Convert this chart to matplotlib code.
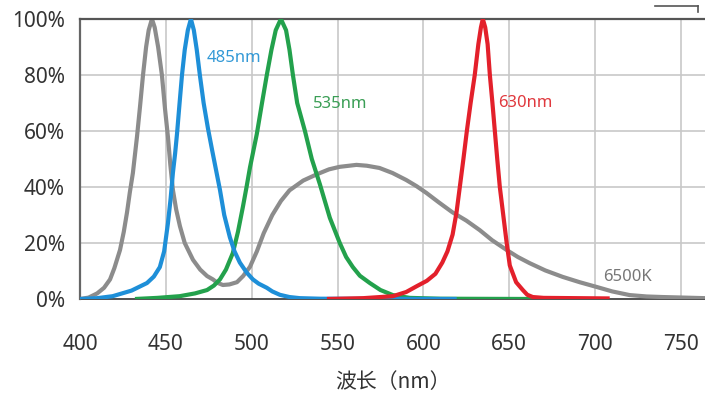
import matplotlib
matplotlib.use("Agg")
import matplotlib.pyplot as plt
from matplotlib.lines import Line2D

# ---- data (wavelength nm, relative intensity %) ----
gray_x = [400, 405, 410, 414, 417.5, 420, 423.3, 425.5, 427.4, 429, 430.8, 433.2, 435,
          436.7, 438.5, 440, 441.9, 443.5, 445.5, 447.7, 449.5, 451.2, 452.6, 454.1, 456,
          458.2, 461, 465.8, 470, 474, 477.4, 480, 483.2, 487, 491.4, 495, 499, 503,
          507, 512, 517, 522, 530, 537.8, 545, 551.2, 561, 567, 574.4, 582, 590,
          596, 601.7, 609, 616.8, 625, 632.8, 640, 648.5, 655, 661.9, 671, 681.1,
          691, 700.9, 710, 720.1, 730, 739.3, 764]
gray_y = [0, 0.5, 2, 4, 7, 11, 17.5, 24, 31, 38, 45, 58, 69,
          80, 90, 96, 100, 97, 90, 80, 68, 58, 48, 39, 32,
          26, 20, 14, 10.5, 8.2, 7, 5.8, 5, 5.2, 6, 8.2, 11.5, 17,
          23.5, 30, 35, 38.8, 42.3, 44.5, 46.3, 47.2, 47.9, 47.6, 46.8, 45, 42.5,
          40.3, 37.9, 34.5, 31, 28, 24.6, 21, 17.5, 15, 12.8, 10.2, 7.9,
          6, 4.3, 2.7, 1.4, 0.9, 0.7, 0.3]

blue_x = [400, 410, 419, 430, 439, 443, 446.5, 449, 451.2, 452.8, 454.1, 455.4, 456.5,
          458, 459.4, 461, 462.8, 464.6, 466.3, 468, 469.8, 472, 474.5, 477, 481.5, 484,
          487.3, 490, 493.1, 497, 500.7, 504, 508.8, 512, 516.4, 522, 528, 540, 619.4]
blue_y = [0, 0.3, 1, 3, 5.7, 8, 11.4, 17, 27, 36, 45, 52, 59,
          70, 80, 89, 96, 100, 96, 89, 80, 70, 61, 53, 39, 30,
          22, 17, 13, 9.5, 7, 5.5, 4, 2.7, 1.5, 0.7, 0.3, 0.1, 0]

green_x = [432, 445, 458, 467, 474, 478, 481.5, 485, 489, 492, 494.9, 497, 499, 501, 503,
           506, 508.8, 511.5, 514, 517, 520, 522, 524, 526.5, 531, 535, 539.7, 545.5,
           551.3, 555, 558.9, 563, 568.8, 575, 582.2, 592, 610, 667.7]
green_y = [0, 0.4, 1, 2, 3.2, 4.8, 7, 10.5, 16.4, 24, 33, 40, 47, 53, 59,
           70, 80, 89, 96, 100, 96, 89, 80, 70, 60, 50, 41, 29,
           20, 15, 11.4, 8.3, 5.7, 3.2, 1.4, 0.4, 0.1, 0]

red_x = [543.8, 565, 582.2, 590, 596.2, 602, 607, 611, 614, 617, 619.3, 621.2, 623.3,
         625.3, 627.5, 629.9, 632, 633.5, 634.6, 636, 637.4, 638.7, 640.2, 641.6, 643,
         644.5, 646.5, 648.5, 650.3, 654, 657.9, 660.5, 663.7, 670, 708.5]
red_y = [0, 0.3, 1, 2.5, 4.6, 6.5, 9, 13, 17, 23, 31, 40, 50,
         60, 70, 80, 91, 97, 100, 97, 91, 80, 70, 60, 50,
         40, 30, 20, 12, 6, 3.2, 1.5, 0.7, 0.4, 0.2]

x_ticks = [400, 450, 500, 550, 600, 650, 700, 750]
y_ticks = [0, 20, 40, 60, 80, 100]
y_tick_labels = ["0%", "20%", "40%", "60%", "80%", "100%"]

labels = [("485nm", 473.9, 86, "#3399d6"),
          ("535nm", 535.6, 69.5, "#3a9e55"),
          ("630nm", 643.3, 70, "#e0393e"),
          ("6500K", 704.5, 8, "#777777")]

plt.rcParams['font.family'] = ['Noto Sans', 'Noto Sans CJK SC', 'DejaVu Sans']

fig = plt.figure(figsize=(7.05, 4.05), dpi=100)
ax = fig.add_axes([80/705, 1-299/405, 1-80/705, 280/405])

ax.set_xlim(400, 764)
ax.set_ylim(0, 100)

# grid
for xv in x_ticks[1:]:
    ax.axvline(xv, color="#c8c8c8", lw=1.2, zorder=0)
for yv in y_ticks[1:-1]:
    ax.axhline(yv, color="#c8c8c8", lw=1.2, zorder=0)

lw = 3.0
kw = dict(lw=lw, solid_capstyle="butt", solid_joinstyle="round")
ax.plot(gray_x, gray_y, color="#8c8c8c", zorder=2, **kw)
ax.plot(green_x, green_y, color="#23a14c", zorder=3, **kw)
ax.plot(blue_x, blue_y, color="#1e8fd8", zorder=4, **kw)
ax.plot(red_x, red_y, color="#e3202b", zorder=5, **kw)

for txt, xx, yy, col in labels:
    ax.text(xx, yy, txt, color=col, fontsize=12, va="center", ha="left", zorder=6)

ax.spines["right"].set_visible(False)
ax.spines["top"].set_color("#555555")
ax.spines["top"].set_linewidth(1.6)
ax.spines["left"].set_color("#666666")
ax.spines["left"].set_linewidth(1.6)
ax.spines["bottom"].set_color("#333333")
ax.spines["bottom"].set_linewidth(1.2)
ax.spines["bottom"].set_zorder(1)

ax.set_xticks(x_ticks)
ax.set_xticklabels([str(v) for v in x_ticks])
ax.set_yticks(y_ticks)
ax.set_yticklabels(y_tick_labels)
ax.tick_params(axis="both", length=0, labelsize=15, colors="#333333")
ax.tick_params(axis="x", pad=25)
ax.tick_params(axis="y", pad=11)

ax.set_xlabel("波长（nm）", fontsize=15, color="#333333", labelpad=12,
              family=['Noto Sans CJK SC', 'DejaVu Sans'])

# small bracket mark at top right
fig.add_artist(Line2D([655/705, 698/705], [1-6/405, 1-6/405], color="#555555", lw=1.2))
fig.add_artist(Line2D([698/705, 698/705], [1-6/405, 1-12/405], color="#555555", lw=1.2))

fig.savefig("out.png", dpi=100)
